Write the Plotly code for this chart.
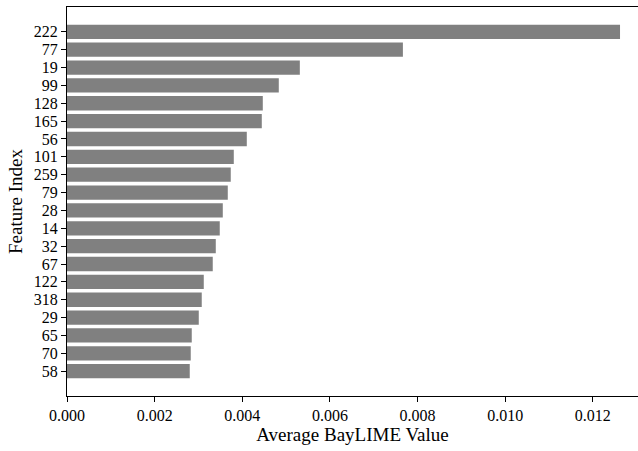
import plotly.graph_objects as go

features = ["222", "77", "19", "99", "128", "165", "56", "101", "259", "79",
            "28", "14", "32", "67", "122", "318", "29", "65", "70", "58"]
values = [0.01262, 0.007665, 0.005313, 0.004833, 0.004468, 0.004445, 0.004103,
          0.003806, 0.003737, 0.003669, 0.003555, 0.003486, 0.003395, 0.003326,
          0.003121, 0.003075, 0.003007, 0.002847, 0.002824, 0.002801]
x_ticks = [0.000, 0.002, 0.004, 0.006, 0.008, 0.010, 0.012]

font_family = "Times New Roman, Liberation Serif, serif"

fig = go.Figure(go.Bar(
    x=values, y=features, orientation="h",
    marker=dict(color="#808080", line=dict(width=0)),
    width=0.8,
))

fig.update_layout(
    width=638, height=451,
    margin=dict(l=67, r=0, t=7, b=55),
    plot_bgcolor="white", paper_bgcolor="white",
    font=dict(family=font_family, size=16, color="black"),
    showlegend=False,
    bargap=0.2,
)
fig.update_xaxes(
    range=[0, 0.01303],
    tickmode="array", tickvals=x_ticks, ticktext=[f"{v:.3f}" for v in x_ticks],
    ticks="outside", ticklen=5, tickwidth=1, tickcolor="black",
    showline=True, linecolor="black", linewidth=1.2, mirror=True,
    showgrid=False, zeroline=False,
    title=dict(text="Average BayLIME Value", font=dict(size=19), standoff=4),
)
fig.update_yaxes(
    type="category", categoryorder="array", categoryarray=features[::-1],
    tickmode="array", tickvals=features, ticktext=features,
    range=[-1.39, 20.39],
    ticks="outside", ticklen=5, tickwidth=1, tickcolor="black",
    showline=True, linecolor="black", linewidth=1.2, mirror=False,
    showgrid=False, zeroline=False,
    title=dict(text="Feature Index", font=dict(size=19), standoff=6),
)

fig.write_html("out.html")
